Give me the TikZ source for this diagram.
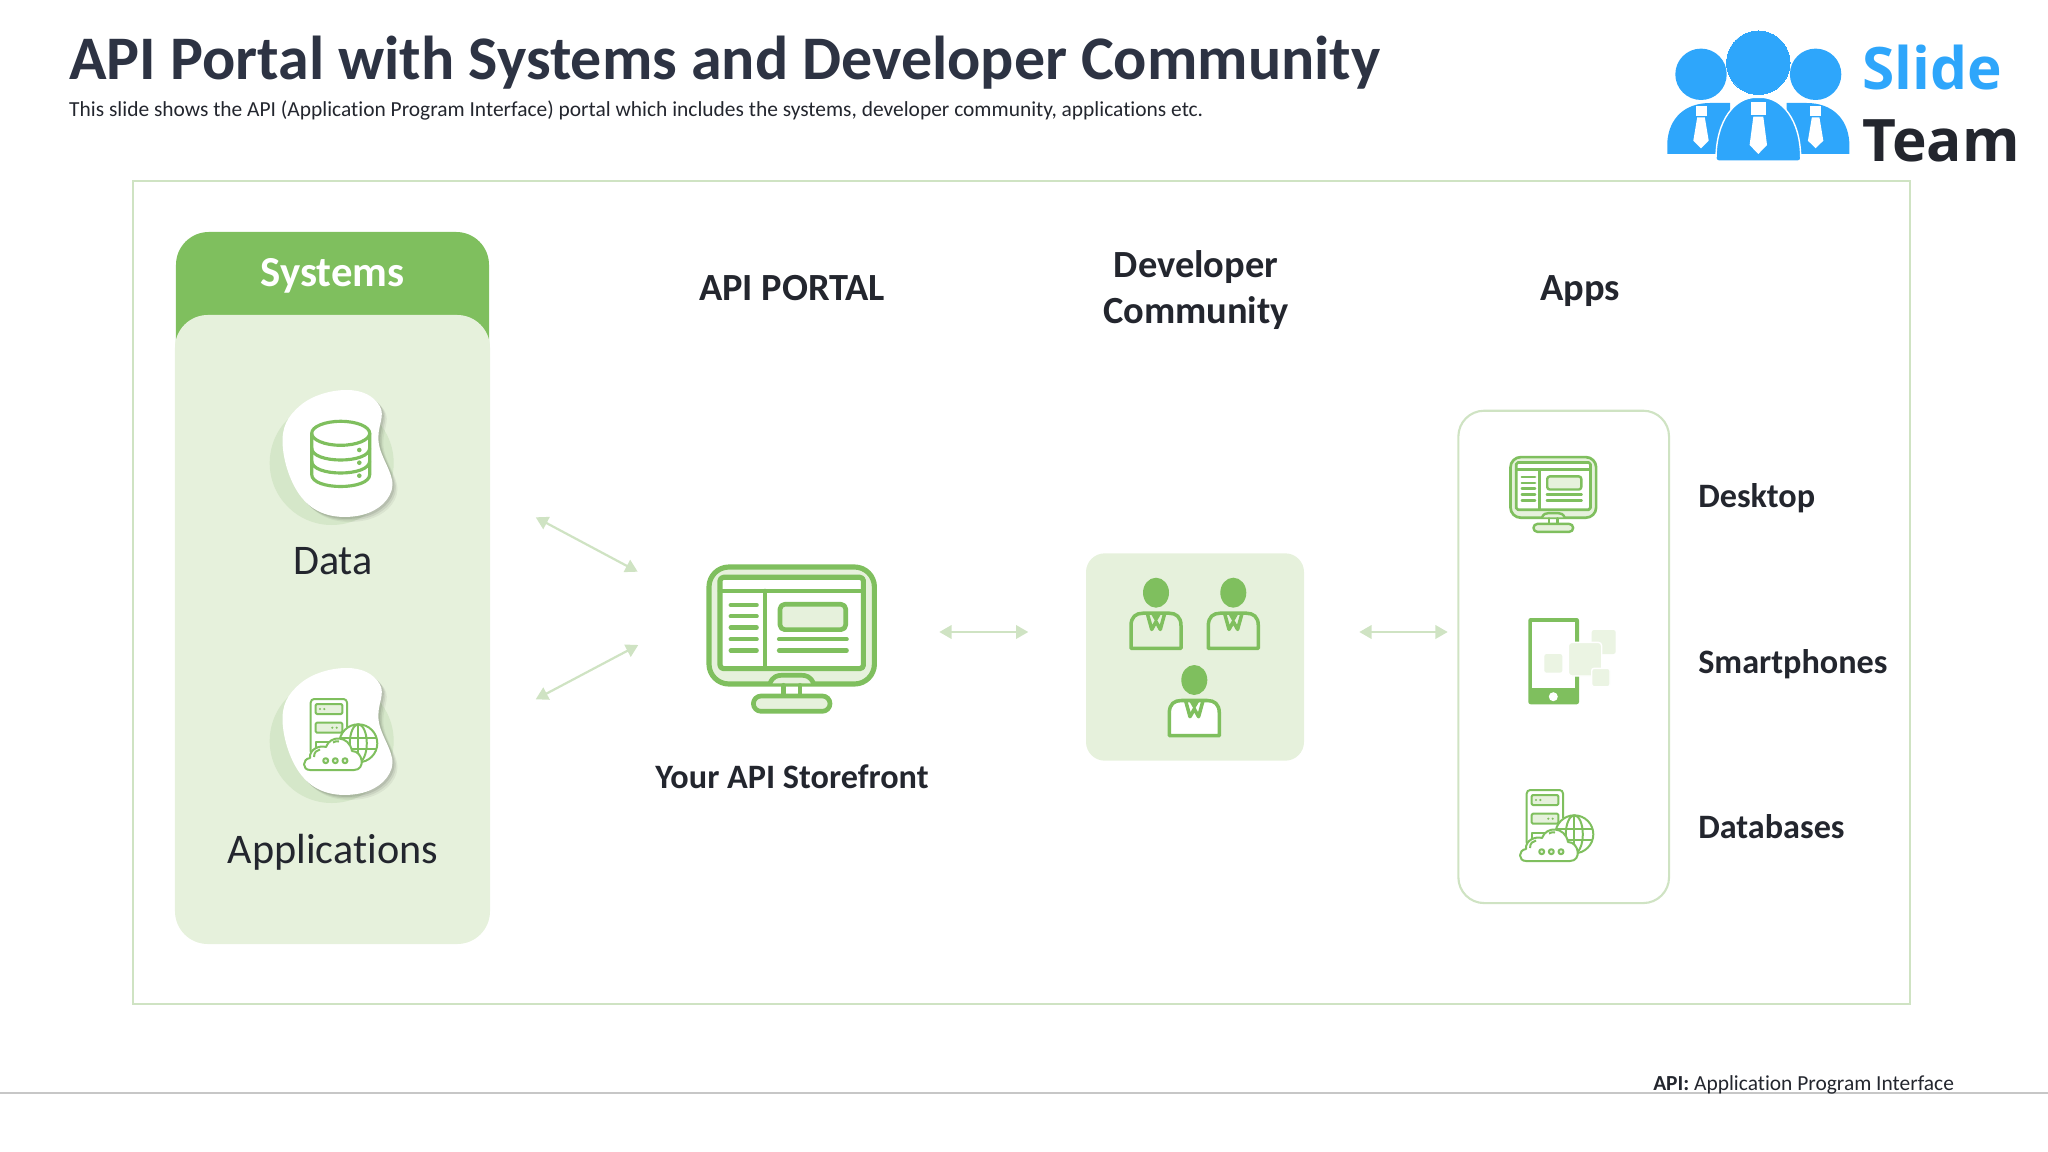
\documentclass[tikz,border=0pt]{standalone}
\usepackage{fontspec}
\setmainfont{Carlito}[Ligatures = NoCommon]
\newfontfamily\logofont{Open Sans}
\usetikzlibrary{arrows.meta}
\definecolor{leaf}{HTML}{7FBF5E}
\definecolor{pale}{HTML}{E6F1DC}
\definecolor{mist}{HTML}{CFE3C3}
\definecolor{sky}{HTML}{2EA6FB}
\definecolor{ink}{HTML}{23262E}
\definecolor{slate}{HTML}{2D3343}
\tikzstyle{title} = [anchor = west, inner sep = 0, text = slate, font = \fontsize{52.9}{60}\selectfont\bfseries]
\tikzstyle{sub} = [anchor = west, inner sep = 0, text = ink, font = \fontsize{18.3}{22}\selectfont]
\tikzstyle{head} = [inner sep = 0, text = ink, align = center, font = \fontsize{32.8}{39.5}\selectfont\bfseries]
\tikzstyle{item} = [inner sep = 0, text = ink, font = \fontsize{36}{42}\selectfont]
\tikzstyle{app} = [anchor = west, inner sep = 0, text = ink, font = \fontsize{29.2}{34}\selectfont\bfseries]
\tikzstyle{panel} = [rectangle, inner sep = 0, fill = pale, rounded corners = 28pt]
\tikzstyle{arrow} = [draw, {Triangle[length = 10.5pt, width = 11.5pt]}-{Triangle[length = 10.5pt, width = 11.5pt]}, mist, line width = 1.9pt]
\tikzset{
  pics/monitor/.style = {code = {
    \begin{scope}[scale = #1, draw = leaf, line cap = round, line join = round]
      \draw[fill = pale, line width = 4.4pt*#1, rounded corners = 17pt*#1] (-82.7,-58.3) rectangle (82.7,58.7);
      \draw[fill = white, line width = 4.4pt*#1, rounded corners = 3pt*#1] (-71.7,-48) rectangle (71.7,43.3);
      \draw[line width = 4pt*#1] (-71.7,-34.3) -- (71.7,-34.3);
      \draw[line width = 4pt*#1] (-26.7,-34.3) -- (-26.7,43.3);
      \foreach \y in {-20.3,-9,2.3,14,25.3} \draw[line width = 3.6pt*#1] (-61,\y) -- (-35,\y);
      \draw[fill = pale, line width = 4pt*#1, rounded corners = 4pt*#1] (-11.7,-21) rectangle (54,4.3);
      \foreach \y in {14,25.3} \draw[line width = 3.6pt*#1] (-12.7,\y) -- (55,\y);
      \draw[fill = pale, line width = 4pt*#1] (-21.7,58) .. controls (-19,51) and (-14,50) .. (-10,50) -- (10,50) .. controls (14,50) and (19,51) .. (21.7,58);
      \draw[line width = 4pt*#1] (-8.3,60) -- (-8.3,70) (8.3,60) -- (8.3,70);
      \draw[fill = pale, line width = 4pt*#1, rounded corners = 6.5pt*#1] (-38.3,70.7) rectangle (38.3,86);
    \end{scope}
  }},
  pics/person/.style = {code = {
    \fill[leaf] (0,0) ellipse [x radius = 13, y radius = 15];
    \draw[leaf, fill = #1, line width = 3pt, line join = round] (-25,55.7) -- (-25,33) .. controls (-25,24) and (-20,20.5) .. (-13,20.5) -- (13,20.5) .. controls (20,20.5) and (25,24) .. (25,33) -- (25,55.7) -- cycle;
    \draw[leaf, line width = 3pt, line join = round] (-8.7,20.7) -- (-4.3,36.7) -- (0,29) -- (4.3,36.7) -- (8.7,20.7);
    \fill[leaf] (-5.5,20.5) -- (5.5,20.5) -- (0,30) -- cycle;
  }},
  pics/server/.style = {code = {
    \begin{scope}[draw = leaf, line width = 1.7pt, line join = round]
      \draw[rounded corners = 3pt] (-10,20) -- (-29.3,20) -- (-29.3,-36) -- (7,-36) -- (7,-8);
      \draw[fill = pale, rounded corners = 1pt] (-24.3,-31) rectangle (2.3,-21);
      \draw[fill = pale, rounded corners = 1pt] (-24.3,-12.3) rectangle (2.3,-2.3);
      \fill[leaf] (-20,-26) circle (1.2) (-15.7,-26) circle (1.2) (-7.7,-7.3) circle (1.2) (-3.3,-7.3) circle (1.2);
      \draw (-24.3,14) -- (-24.3,6.7) -- (-8,6.7);
      \draw[fill = white] (18.3,8.3) circle (19);
      \draw (18.3,8.3) ellipse [x radius = 8.5, y radius = 19];
      \draw (18.3,-10.7) -- (18.3,27.3) (0,2.5) -- (36.6,2.5) (0,14) -- (36.6,14);
      \draw[fill = white] (-30,35) .. controls (-38,35) and (-38,24) .. (-30,23) .. controls (-31,14) and (-20,10) .. (-14,12) .. controls (-10,0) and (9,0) .. (12,16) .. controls (23,16) and (26,35) .. (14,35) -- cycle;
      \draw (-26,22) .. controls (-26,17) and (-23,15) .. (-20,14.5);
      \draw (-7,7.5) .. controls (-5,6) and (-3,6) .. (-1,6.5);
      \foreach \x in {-14.3,-4.7,5} \draw[fill = pale] (\x,25.7) circle (2.5);
    \end{scope}
  }},
  pics/blob/.style = {code = {
    \fill[mist!75!pale] (0,0) circle (62);
    \foreach \o/\s in {.05/5,.07/3.5,.09/2}
      \fill[black, opacity = \o, xshift = \s*.85pt, yshift = -\s*.85pt] plot[smooth cycle, tension = .7] coordinates {(15,-73) (48,-57) (47,-20) (60,27) (25,53) (-25,40) (-49,-17) (-32,-57)};
    \fill[white] plot[smooth cycle, tension = .7] coordinates {(15,-73) (48,-57) (47,-20) (60,27) (25,53) (-25,40) (-49,-17) (-32,-57)};
  }}
}
\begin{document}
\begin{tikzpicture}[x = 0.03cm, y = -0.03cm]
  \useasboundingbox (0,0) rectangle (2048,1152);

  % header
  \node[title] (main) at (69,62.5) {API Portal with Systems and Developer Community};
  \node[sub] (mainsub) at (69,110.5) {This slide shows the API (Application Program Interface) portal which includes the systems, developer community, applications etc.};

  % logo
  \fill[sky] (1667.3,154) -- (1667.3,142) .. controls (1669,118) and (1685,103) .. (1710,103) -- (1730,103) -- (1730,154) -- cycle;
  \fill[sky] (1849.3,154) -- (1849.3,142) .. controls (1847.6,118) and (1831.6,103) .. (1806.6,103) -- (1786.6,103) -- (1786.6,154) -- cycle;
  \fill[sky] (1701,74.3) circle (25.7) (1815.6,74.3) circle (25.7);
  \draw[sky, fill = sky, line width = 0pt] (1758.3,62.7) circle (31.7);
  \draw[white, fill = sky, line width = 1.2pt, rounded corners = 2pt] (1716,161) .. controls (1716,120) and (1735,97.3) .. (1758.3,97.3) .. controls (1782,97.3) and (1800.7,120) .. (1800.7,161) -- cycle;
  \foreach \x in {1701,1815.6} {
    \fill[white] (\x-5.5,106) rectangle (\x+5.5,116);
    \fill[white] (\x-3.8,117.3) -- (\x+3.8,117.3) -- (\x+7.7,140.7) -- (\x,148.3) -- (\x-7.7,140.7) -- cycle;
  }
  \fill[white] (1751,101.7) rectangle (1765.6,115);
  \fill[white] (1753.3,116.7) -- (1763.3,116.7) -- (1767,145) -- (1758.3,154) -- (1749.6,145) -- cycle;
  \node[anchor = west, inner sep = 0, text = sky, font = \logofont\fontsize{50}{56}\selectfont\bfseries] (slide) at (1862,67.5) {Slide};
  \node[anchor = west, inner sep = 0, text = ink, font = \logofont\fontsize{50}{56}\selectfont\bfseries] (team) at (1862,140.5) {Team};

  % frame and panels
  \node[rectangle, draw = mist, line width = 1.7pt, minimum width = 53.31cm, minimum height = 24.7cm] (frame) at (1021.5,592.2) {};
  \node[panel, fill = leaf, minimum width = 9.39cm, minimum height = 6cm] (syshead) at (332.5,332) {};
  \node[panel, minimum width = 9.45cm, minimum height = 18.87cm] (syspanel) at (332.5,629.5) {};
  \node[panel, rounded corners = 16pt, minimum width = 6.54cm, minimum height = 6.22cm] (devbox) at (1195,657) {};
  \node[panel, fill = white, draw = mist, line width = 1.8pt, rounded corners = 22pt, minimum width = 6.32cm, minimum height = 14.77cm] (appbox) at (1563.7,656.9) {};

  % column titles
  \node[head, text = white, font = \fontsize{36.5}{42}\selectfont\bfseries] (sys) at (332.5,276) {Systems};
  \node[head] (portal) at (792,288.5) {API PORTAL};
  \node[head] (dev) at (1196,290) {Developer\\Community};
  \node[head] (apps) at (1580,291) {Apps};

  % systems
  \pic at (331.7,463) {blob};
  \pic at (331.7,741) {blob};
  \draw[leaf, line width = 2.7pt, fill = white] (340.7,433.3) ellipse [x radius = 29, y radius = 12];
  \draw[leaf, line width = 2.7pt] (311.7,433.3) -- (311.7,474.5) .. controls (311.7,490.5) and (369.7,490.5) .. (369.7,474.5) -- (369.7,433.3);
  \foreach \y in {448,461} \draw[leaf, line width = 2.7pt] (311.7,\y) .. controls (311.7,\y+16) and (369.7,\y+16) .. (369.7,\y);
  \foreach \y in {450,462.7,475.7} \fill[leaf] (359.3,\y) circle (2.3);
  \pic at (340,735) {server};
  \node[item] (data) at (333,561.5) {Data};
  \node[item] (appl) at (333,852) {Applications};

  % storefront
  \pic at (791.7,625.3) {monitor = 1};
  \node[head, font = \fontsize{29.2}{34}\selectfont\bfseries] (store) at (792,777) {Your API Storefront};

  % community
  \pic at (1156,592.7) {person = pale};
  \pic at (1233.3,592.7) {person = pale};
  \pic at (1194.3,680) {person = white};

  % apps
  \pic at (1553.3,487.3) {monitor = .518};
  \node[app] (desk) at (1698,498) {Desktop};
  \fill[leaf, rounded corners = 2pt] (1528.3,618) rectangle (1579,704.3);
  \fill[white] (1532,622.3) rectangle (1575,688.3);
  \fill[white] (1553.3,696.7) circle (4.5);
  \fill[pale!80!white, rounded corners = 2pt] (1544.3,654) rectangle (1562.3,672.7);
  \fill[pale!80!white, rounded corners = 2pt] (1591.7,630) rectangle (1615.7,654);
  \draw[white, fill = pale!80!white, line width = 1.2pt, rounded corners = 3pt] (1568.3,642.3) rectangle (1601.7,676);
  \draw[white, fill = pale!80!white, line width = 1.2pt, rounded corners = 2pt] (1591.7,668.3) rectangle (1610,686.7);
  \node[app] (phone) at (1698,664) {Smartphones};
  \pic at (1556,826) {server};
  \node[app] (base) at (1698,827) {Databases};

  % arrows
  \coordinate (a1) at (535.7,517.3);
  \coordinate (a2) at (637.7,571.7);
  \coordinate (b1) at (535.7,699.3);
  \coordinate (b2) at (638.3,645);
  \coordinate (c1) at (939.3,632);
  \coordinate (c2) at (1028.3,632);
  \coordinate (d1) at (1359.3,632);
  \coordinate (d2) at (1447.7,632);
  \path[arrow] (a1) -- (a2);
  \path[arrow] (b1) -- (b2);
  \path[arrow] (c1) -- (c2);
  \path[arrow] (d1) -- (d2);

  % footer
  \coordinate (f1) at (0,1093);
  \coordinate (f2) at (2048,1093);
  \draw[black!22, line width = 1pt] (f1) -- (f2);
  \node[anchor = west, inner sep = 0, text = ink, font = \fontsize{18.3}{20}\selectfont] (note) at (1653,1085) {\textbf{API:} Application Program Interface};
\end{tikzpicture}
\end{document}
